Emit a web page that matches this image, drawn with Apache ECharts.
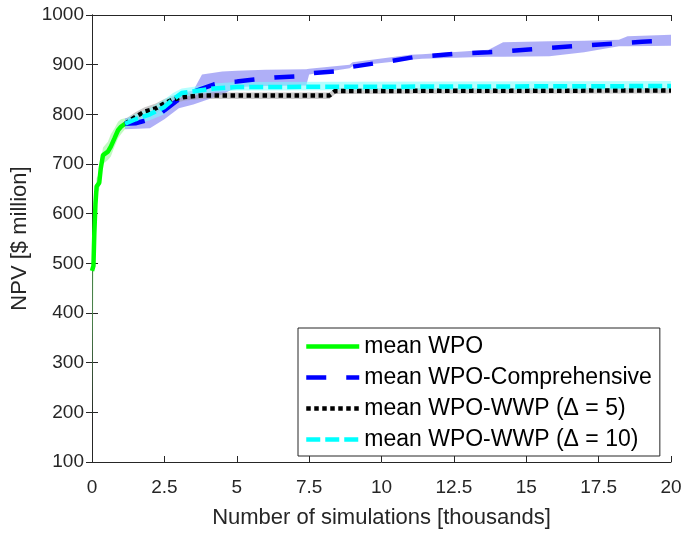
<!DOCTYPE html>
<html>
<head>
<meta charset="utf-8">
<script src="https://cdn.jsdelivr.net/npm/echarts@6/dist/echarts.min.js"></script>
<style>
  html, body { margin: 0; padding: 0; background: #fff; }
  #chart { width: 685px; height: 534px; }
</style>
</head>
<body>
<div id="chart"></div>
<script>
// x in thousands of simulations, y in $ million
var xTicks = [0, 2.5, 5, 7.5, 10, 12.5, 15, 17.5, 20];
var yTicks = [100, 200, 300, 400, 500, 600, 700, 800, 900, 1000];

// mean WPO
var greenX = [0, 0.05, 0.08, 0.12, 0.16, 0.25, 0.3, 0.38, 0.55, 0.65, 0.78, 0.9, 1.0, 1.14];
var greenY = [485, 495, 560, 620, 655, 662, 690, 718, 725, 735, 752, 768, 775, 781];
var greenUp = [490, 510, 590, 650, 672, 680, 705, 733, 745, 760, 772, 785, 790, 792];
var greenLo = [180, 480, 530, 600, 640, 648, 675, 700, 708, 715, 735, 752, 760, 770];

// mean WPO-Comprehensive
var blueX = [1.14, 1.5, 2.0, 2.3, 2.5, 2.9, 3.2, 3.5, 3.8, 4.2, 4.6, 5.0, 5.6, 6.3, 7.0, 7.4, 8.5, 8.9, 9.8, 10.3, 11.1, 12.6, 13.7, 14.0, 15.4, 16.8, 18.2, 19.0, 20];
var blueY = [781, 782, 790, 798, 808, 826, 838, 845, 852, 860, 865, 866, 870, 874, 876, 882, 887, 895, 903, 907, 915, 922, 925, 926, 932, 938, 943, 946, 949];
var blueBandX = [1.14, 2.0, 2.5, 3.0, 3.5, 3.8, 4.5, 5.0, 6.0, 7.4, 7.5, 8.9, 9.0, 11.0, 11.4, 13.7, 14.2, 15.8, 17.0, 18.2, 18.5, 20];
var blueUp = [792, 800, 825, 842, 848, 880, 886, 888, 890, 891, 892, 900, 905, 920, 921, 930, 945, 947, 948, 950, 957, 960];
var blueLo = [770, 772, 790, 812, 820, 826, 840, 855, 857, 858, 880, 893, 897, 910, 912, 916, 916, 917, 925, 937, 937, 938];

// mean WPO-WWP (delta = 5)
var blackX = [1.14, 1.5, 1.8, 2.2, 2.5, 2.8, 3.2, 3.8, 8.2, 8.4, 20];
var blackY = [781, 795, 805, 812, 822, 830, 835, 838, 838, 847, 848];
var blackUp = [790, 804, 814, 822, 831, 838, 842, 844, 844, 852, 853];
var blackLo = [772, 786, 796, 803, 812, 822, 828, 831, 831, 841, 842];

// mean WPO-WWP (delta = 10)
var cyanX = [1.14, 1.5, 2.0, 2.5, 2.8, 3.1, 3.7, 4.2, 5, 20];
var cyanY = [781, 790, 800, 815, 830, 843, 848, 852, 855, 857];
var cyanUp = [790, 800, 812, 830, 843, 852, 857, 862, 865, 867];
var cyanLo = [772, 780, 788, 800, 818, 835, 840, 845, 848, 850];

var names = ['mean WPO', 'mean WPO-Comprehensive', 'mean WPO-WWP (\u0394 = 5)', 'mean WPO-WWP (\u0394 = 10)'];

function pairs(xs, ys) {
    var out = [];
    for (var i = 0; i < xs.length; i++) out.push([xs[i], ys[i]]);
    return out;
}

// shaded spread drawn as polygon through the axis scales
function band(xs, up, lo, color) {
    return {
        type: 'custom',
        silent: true,
        z: 1,
        data: [[xs[0], up[0]]],
        renderItem: function (params, api) {
            var pts = [];
            for (var i = 0; i < xs.length; i++) pts.push(api.coord([xs[i], up[i]]));
            for (var j = xs.length - 1; j >= 0; j--) pts.push(api.coord([xs[j], lo[j]]));
            return { type: 'polygon', shape: { points: pts }, style: { fill: color } };
        }
    };
}

function line(name, xs, ys, color, type) {
    return {
        name: name,
        type: 'line',
        data: pairs(xs, ys),
        symbol: 'none',
        z: 3,
        color: color,
        lineStyle: { color: color, width: 4.5, type: type, cap: 'butt' }
    };
}

var axisText = { color: '#262626', fontFamily: 'Liberation Sans', fontSize: 19 };
var axisLine = { show: true, lineStyle: { color: '#262626', width: 1 } };

var chart = echarts.init(document.getElementById('chart'));
chart.setOption({
    animation: false,
    backgroundColor: '#fff',
    grid: { left: 92, right: 14, top: 15, bottom: 66 },
    legend: {
        data: names,
        orient: 'vertical',
        left: 298,
        top: 328,
        padding: [7, 8, 5, 6],
        itemGap: 8,
        itemWidth: 53,
        itemHeight: 22,
        backgroundColor: '#fff',
        borderColor: '#262626',
        borderWidth: 1,
        borderRadius: 0,
        itemStyle: { opacity: 0 },
        lineStyle: { width: 4.5 },
        textStyle: { color: '#000', fontFamily: 'Liberation Sans', fontSize: 23, lineHeight: 22, padding: [0, 0, 0, 0] }
    },
    xAxis: [{
        type: 'value', min: 0, max: 20, interval: 2.5,
        name: 'Number of simulations [thousands]', nameLocation: 'middle', nameGap: 45,
        nameTextStyle: { color: '#262626', fontFamily: 'Liberation Sans', fontSize: 22 },
        axisLine: axisLine,
        axisTick: { inside: true, length: 6, lineStyle: { color: '#262626' } },
        axisLabel: Object.assign({ margin: 16 }, axisText),
        splitLine: { show: false }
    }, {
        type: 'value', min: 0, max: 20, interval: 2.5, position: 'top',
        axisLine: axisLine,
        axisTick: { inside: true, length: 6, lineStyle: { color: '#262626' } },
        axisLabel: { show: false },
        splitLine: { show: false }
    }],
    yAxis: [{
        type: 'value', min: 100, max: 1000, interval: 100,
        name: 'NPV [$ million]', nameLocation: 'middle', nameGap: 55,
        nameTextStyle: { color: '#262626', fontFamily: 'Liberation Sans', fontSize: 22 },
        axisLine: axisLine,
        axisTick: { inside: true, length: 6, lineStyle: { color: '#262626' } },
        axisLabel: Object.assign({ margin: 8, formatter: function (v) { return String(v); } }, axisText),
        splitLine: { show: false }
    }, {
        type: 'value', min: 100, max: 1000, interval: 100, position: 'right',
        axisLine: axisLine,
        axisTick: { inside: true, length: 6, lineStyle: { color: '#262626' } },
        axisLabel: { show: false },
        splitLine: { show: false }
    }],
    series: [
        band(greenX, greenUp, greenLo, 'rgba(120,240,120,0.45)'),
        band(blueBandX, blueUp, blueLo, 'rgba(110,110,240,0.55)'),
        band(blackX, blackUp, blackLo, 'rgba(150,150,150,0.5)'),
        band(cyanX, cyanUp, cyanLo, 'rgba(120,255,255,0.55)'),
        line(names[0], greenX, greenY, '#00ff00', 'solid'),
        line(names[1], blueX, blueY, '#0000ff', [20, 20]),
        line(names[2], blackX, blackY, '#000000', [4.5, 3.5]),
        line(names[3], cyanX, cyanY, '#00ffff', [14, 5])
    ]
});
window.onresize = chart.resize;
</script>
</body>
</html>
